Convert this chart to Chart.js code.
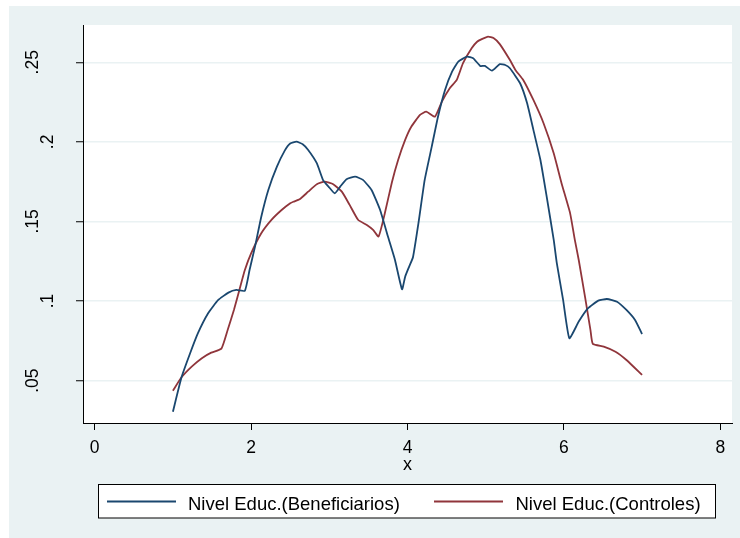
<!DOCTYPE html>
<html>
<head>
<meta charset="utf-8">
<script src="https://cdn.jsdelivr.net/npm/chart.js@4.4.1/dist/chart.umd.min.js"></script>
<style>
  html, body { margin: 0; padding: 0; background: #ffffff; }
  #wrap { width: 740px; height: 538px; }
</style>
</head>
<body>
<div id="wrap"><canvas id="densityChart" width="740" height="538"></canvas></div>
<script>
// values
const benefX = [1.00, 1.11, 1.22, 1.32, 1.45, 1.58, 1.71, 1.81, 1.92, 1.98, 2.05, 2.13, 2.22, 2.33, 2.43, 2.50,
  2.58, 2.66, 2.73, 2.84, 2.92, 2.99, 3.07, 3.14, 3.22, 3.33, 3.43, 3.54, 3.65, 3.75, 3.84, 3.93, 3.97, 4.02,
  4.07, 4.14, 4.22, 4.31, 4.39, 4.48, 4.57, 4.65, 4.76, 4.84, 4.93, 4.99, 5.08, 5.18, 5.25, 5.31, 5.44, 5.53,
  5.61, 5.70, 5.78, 5.87, 5.91, 5.99, 6.07, 6.19, 6.31, 6.44, 6.55, 6.68, 6.80, 6.91, 7.00];
const benefY = [0.0305, 0.0521, 0.0672, 0.0798, 0.0923, 0.1007, 0.1053, 0.1070, 0.1065, 0.1195, 0.1342, 0.1530,
  0.1698, 0.1844, 0.1945, 0.1990, 0.2001, 0.1985, 0.1949, 0.1866, 0.1760, 0.1719, 0.1677, 0.1719, 0.1765, 0.1781,
  0.1761, 0.1698, 0.1572, 0.1405, 0.1258, 0.1074, 0.1153, 0.1215, 0.1275, 0.1489, 0.1761, 0.1970, 0.2158, 0.2326,
  0.2441, 0.2504, 0.2535, 0.2525, 0.2477, 0.2477, 0.2447, 0.2488, 0.2483, 0.2462, 0.2368, 0.2242, 0.2075, 0.1886,
  0.1656, 0.1384, 0.1237, 0.1007, 0.0766, 0.0871, 0.0955, 0.1003, 0.1013, 0.0996, 0.0944, 0.0881, 0.0793];

const ctrlX = [1.00, 1.11, 1.24, 1.37, 1.49, 1.62, 1.70, 1.78, 1.85, 1.92, 2.00, 2.13, 2.26, 2.39, 2.50, 2.54,
  2.62, 2.73, 2.84, 2.94, 3.05, 3.16, 3.26, 3.37, 3.48, 3.56, 3.63, 3.71, 3.80, 3.88, 3.97, 4.05, 4.16, 4.24,
  4.35, 4.44, 4.54, 4.63, 4.71, 4.82, 4.89, 4.95, 5.03, 5.10, 5.18, 5.31, 5.38, 5.48, 5.61, 5.74, 5.87, 5.97,
  6.08, 6.14, 6.19, 6.27, 6.34, 6.37, 6.51, 6.66, 6.80, 7.00];
const ctrlY = [0.0437, 0.0521, 0.0588, 0.0641, 0.0676, 0.0701, 0.0818, 0.0944, 0.1070, 0.1195, 0.1300, 0.1426,
  0.1510, 0.1572, 0.1614, 0.1624, 0.1639, 0.1687, 0.1734, 0.1750, 0.1734, 0.1687, 0.1604, 0.1509, 0.1478, 0.1447,
  0.1405, 0.1551, 0.1745, 0.1886, 0.2012, 0.2096, 0.2169, 0.2190, 0.2158, 0.2253, 0.2337, 0.2389, 0.2494, 0.2588,
  0.2629, 0.2645, 0.2661, 0.2652, 0.2614, 0.2514, 0.2452, 0.2389, 0.2263, 0.2117, 0.1928, 0.1740, 0.1551, 0.1384,
  0.1258, 0.1028, 0.0818, 0.0731, 0.0714, 0.0682, 0.0630, 0.0536];

const seriesNames = ['Nivel Educ.(Beneficiarios)', 'Nivel Educ.(Controles)'];
const xTicks = [0, 2, 4, 6, 8];
const xTickLabels = ['0', '2', '4', '6', '8'];
const yTicks = [0.05, 0.1, 0.15, 0.2, 0.25];
const yTickLabels = ['.05', '.1', '.15', '.2', '.25'];

const FONT = "'Liberation Sans', Arial, sans-serif";
const BG = '#eaf2f3';

function toPoints(xs, ys) {
    return xs.map((x, i) => ({ x: x, y: ys[i] }));
}

const stataFrame = {
    id: 'stataFrame',
    beforeDraw(chart) {
        const ctx = chart.ctx;
        const a = chart.chartArea;
        ctx.save();
        ctx.fillStyle = BG;
        ctx.fillRect(9, 6, chart.width - 9, chart.height - 6);
        ctx.fillStyle = '#ffffff';
        ctx.fillRect(a.left, a.top, a.right - a.left, a.bottom - a.top);
        ctx.restore();
    },
    afterDraw(chart) {
        const ctx = chart.ctx;
        const xs = chart.scales.x;
        const ys = chart.scales.y;
        ctx.save();
        ctx.fillStyle = '#000000';
        ctx.font = '17.5px ' + FONT;

        // x tick labels
        ctx.textAlign = 'center';
        ctx.textBaseline = 'alphabetic';
        xTicks.forEach((v, i) => {
            ctx.fillText(xTickLabels[i], xs.getPixelForValue(v), 452.5);
        });
        // x title
        ctx.font = '18px ' + FONT;
        ctx.fillText('x', xs.getPixelForValue(4), 470);

        // y tick labels, rotated
        ctx.font = '17.5px ' + FONT;
        yTicks.forEach((v, i) => {
            const lab = yTickLabels[i];
            const bx = lab.length === 2 ? 52.5 : 37.5;
            ctx.save();
            ctx.translate(bx, ys.getPixelForValue(v));
            ctx.rotate(-Math.PI / 2);
            ctx.textAlign = 'center';
            ctx.fillText(lab, 0, 0);
            ctx.restore();
        });

        // legend box
        const lx = 98.5, ly = 484.5, lw = 617, lh = 33.5;
        ctx.fillStyle = '#ffffff';
        ctx.fillRect(lx, ly, lw, lh);
        ctx.strokeStyle = '#000000';
        ctx.lineWidth = 1;
        ctx.strokeRect(lx, ly, lw, lh);

        const items = [
            { x0: 107, x1: 176, tx: 188 },
            { x0: 434, x1: 503, tx: 515.5 }
        ];
        ctx.font = '18.5px ' + FONT;
        ctx.textAlign = 'left';
        items.forEach((it, i) => {
            const ds = chart.data.datasets[i];
            ctx.strokeStyle = ds.borderColor;
            ctx.lineWidth = 1.8;
            ctx.beginPath();
            ctx.moveTo(it.x0, 501.5);
            ctx.lineTo(it.x1, 501.5);
            ctx.stroke();
            ctx.fillStyle = '#000000';
            ctx.fillText(ds.label, it.tx, 509.5);
        });
        ctx.restore();
    }
};

new Chart(document.getElementById('densityChart'), {
    type: 'line',
    data: {
        datasets: [{
            label: seriesNames[0],
            data: toPoints(benefX, benefY),
            borderColor: '#1a476f',
            borderWidth: 1.8,
            pointRadius: 0,
            tension: 0.15,
            fill: false
        }, {
            label: seriesNames[1],
            data: toPoints(ctrlX, ctrlY),
            borderColor: '#90353b',
            borderWidth: 1.8,
            pointRadius: 0,
            tension: 0.15,
            fill: false
        }]
    },
    options: {
        responsive: false,
        animation: false,
        events: [],
        layout: {
            padding: { left: 83, top: 25, right: 8, bottom: 115 }
        },
        plugins: {
            legend: { display: false },
            tooltip: { enabled: false }
        },
        scales: {
            x: {
                type: 'linear',
                min: -0.15,
                max: 8.15,
                afterFit: s => { s.height = 0; },
                afterBuildTicks: s => { s.ticks = xTicks.map(v => ({ value: v })); },
                ticks: { display: false },
                grid: {
                    drawOnChartArea: false,
                    drawTicks: true,
                    tickLength: 7,
                    tickColor: '#000000',
                    tickWidth: 1
                },
                border: { display: true, color: '#000000', width: 1 }
            },
            y: {
                type: 'linear',
                min: 0.0234,
                max: 0.2734,
                afterFit: s => { s.width = 0; },
                afterBuildTicks: s => { s.ticks = yTicks.map(v => ({ value: v })); },
                ticks: { display: false },
                grid: {
                    color: BG,
                    lineWidth: 1.5,
                    drawTicks: true,
                    tickLength: 7,
                    tickColor: '#000000',
                    tickWidth: 1
                },
                border: { display: true, color: '#000000', width: 1 }
            }
        }
    },
    plugins: [stataFrame]
});
</script>
</body>
</html>
